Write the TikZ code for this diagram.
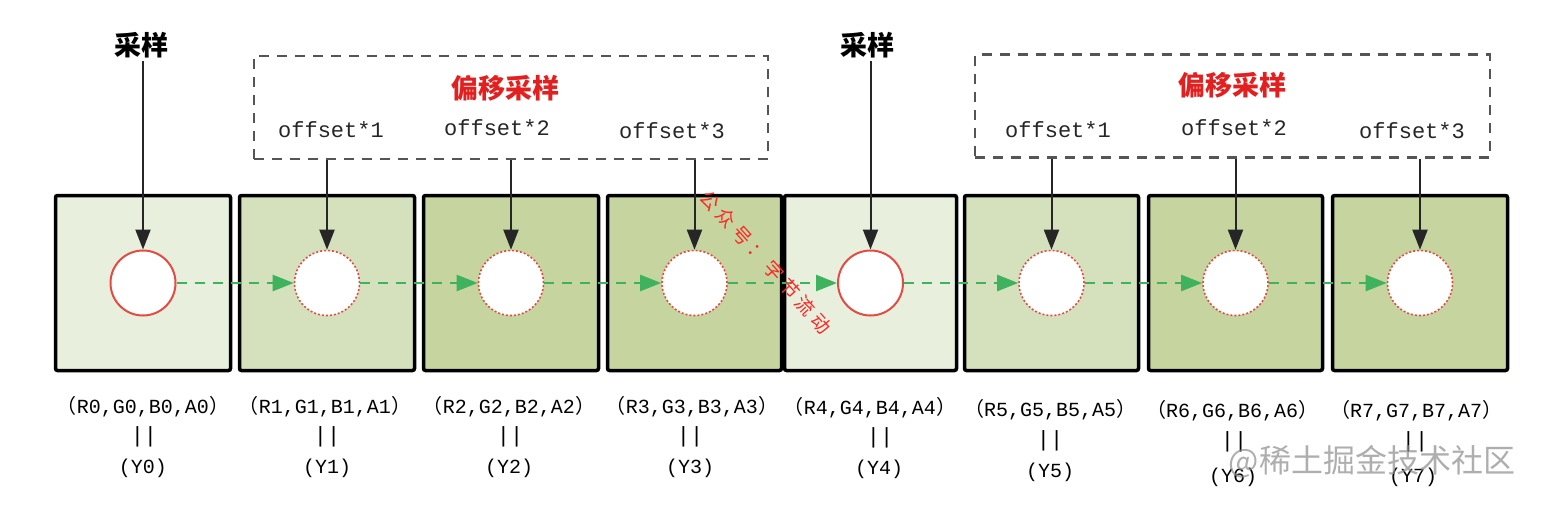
\documentclass[tikz,border=0pt]{standalone}
\usepackage{fontspec}
\setmonofont{Liberation Mono}
\newfontfamily\cjk{Noto Sans CJK SC}
\usetikzlibrary{arrows.meta, calc}

\definecolor{cellpale}{RGB}{233,239,221}
\definecolor{cellmid}{RGB}{213,225,189}
\definecolor{celldeep}{RGB}{198,213,160}
\definecolor{probered}{RGB}{226,76,66}
\definecolor{flowgreen}{RGB}{62,178,92}
\definecolor{groupgray}{RGB}{85,85,85}
\definecolor{titlered}{RGB}{226,32,32}

\newcommand{\rgbaof}[1]{{\cjk （}R#1,G#1,B#1,A#1{\cjk ）}}

\begin{document}
\begin{tikzpicture}[x=1pt,y=-1pt,>={Triangle[length=20pt,width=15pt]},
			cell/.style={draw=black,line width=3.5pt,rounded corners=2pt,minimum height=175pt,inner sep=0pt},
			probe/.style={circle,draw=probered,fill=white,line width=2pt,minimum size=65pt,inner sep=0pt},
			shifted/.style={probe,dotted,line width=1.6pt},
			group/.style={draw=groupgray,line width=2.5pt,dash pattern=on 10pt off 8pt,minimum height=103pt,inner sep=0pt},
			head/.style={font=\cjk\bfseries\fontsize{27}{30}\selectfont},
			title/.style={font=\cjk\bfseries\fontsize{27}{30}\selectfont,text=titlered},
			step label/.style={font=\ttfamily\fontsize{22}{24}\selectfont,text=black!85},
			value/.style={font=\ttfamily\fontsize{20}{22}\selectfont,inner sep=0pt},
			bars/.style={font=\ttfamily\fontsize{22}{24}\selectfont,inner sep=0pt,text height=13pt,text depth=2pt},
			down/.style={->,color=black!85,line width=2pt},
			flow/.style={-{Triangle[length=21pt,width=16pt]},color=flowgreen,line width=2.5pt,dash pattern=on 10pt off 8pt}]
			
			\useasboundingbox (0,0) rectangle (1544,514);
			
			% pixel cells
			\node[cell,fill=cellpale,minimum width=175pt] (b0) at (143,283) {};
			\node[cell,fill=cellmid,minimum width=175pt] (b1) at (327,283) {};
			\node[cell,fill=celldeep,minimum width=175pt] (b2) at (511,283) {};
			\node[cell,fill=celldeep,minimum width=174pt] (b3) at (694.5,283) {};
			\node[cell,fill=cellpale,minimum width=172pt] (b4) at (870.5,283) {};
			\node[cell,fill=cellmid,minimum width=174pt] (b5) at (1051.5,283) {};
			\node[cell,fill=celldeep,minimum width=174pt] (b6) at (1235.5,283) {};
			\node[cell,fill=celldeep,minimum width=175pt] (b7) at (1420,283) {};
			
			% sample points
			\node[probe] (c0) at (b0.center) {};
			\node[shifted] (c1) at (b1.center) {};
			\node[shifted] (c2) at (b2.center) {};
			\node[shifted] (c3) at (b3.center) {};
			\node[probe] (c4) at (b4.center) {};
			\node[shifted] (c5) at (b5.center) {};
			\node[shifted] (c6) at (b6.center) {};
			\node[shifted] (c7) at (b7.center) {};
			
			\path[flow]
			(c0) edge (c1)
			(c1) edge (c2)
			(c2) edge (c3)
			(c3) edge (c4)
			(c4) edge (c5)
			(c5) edge (c6)
			(c6) edge (c7);
			
			% plain samples
			\node[head] (s0) at (141,45) {采样};
			\node[head] (s4) at (867,45) {采样};
			\draw[down] (s0.south -| c0.north) -- (c0.north);
			\draw[down] (s4.south -| c4.north) -- (c4.north);
			
			% offset groups
			\node[group,minimum width=514pt] (g1) at (511,107.5) {};
			\node[group,minimum width=515pt] (g2) at (1232.5,106) {};
			\node[title] (t1) at (505,88) {偏移采样};
			\node[title] (t2) at (1232,85) {偏移采样};
			\node[step label] (o1) at (331,130) {offset*1};
			\node[step label] (o2) at (497,128) {offset*2};
			\node[step label] (o3) at (672,131) {offset*3};
			\node[step label] (o5) at (1058,130) {offset*1};
			\node[step label] (o6) at (1234,128) {offset*2};
			\node[step label] (o7) at (1412,131) {offset*3};
			\draw[down] (g1.south -| c1.north) -- (c1.north);
			\draw[down] (g1.south -| c2.north) -- (c2.north);
			\draw[down] (g1.south -| c3.north) -- (c3.north);
			\draw[down] (g2.south -| c5.north) -- (c5.north);
			\draw[down] (g2.south -| c6.north) -- (c6.north);
			\draw[down] (g2.south -| c7.north) -- (c7.north);
			
			% pixel values
			\node[value] (v0) at (143,407) {\rgbaof{0}};
			\node[value] (v1) at (325,407) {\rgbaof{1}};
			\node[value] (v2) at (509,407) {\rgbaof{2}};
			\node[value] (v3) at (692,407) {\rgbaof{3}};
			\node[value] (v4) at (870,408) {\rgbaof{4}};
			\node[value] (v5) at (1050,410) {\rgbaof{5}};
			\node[value] (v6) at (1232,411) {\rgbaof{6}};
			\node[value] (v7) at (1416,411) {\rgbaof{7}};
			\node[bars] (e0) at (144,437) {||};
			\node[bars] (e1) at (327,437) {||};
			\node[bars] (e2) at (510,437) {||};
			\node[bars] (e3) at (690,437) {||};
			\node[bars] (e4) at (880,438) {||};
			\node[bars] (e5) at (1050,441) {||};
			\node[bars] (e6) at (1234,442) {||};
			\node[bars] (e7) at (1415,442) {||};
			\node[value] (y0) at (143,468) {(Y0)};
			\node[value] (y1) at (327,468) {(Y1)};
			\node[value] (y2) at (509,468) {(Y2)};
			\node[value] (y3) at (690,468) {(Y3)};
			\node[value] (y4) at (879,469) {(Y4)};
			\node[value] (y5) at (1050,472) {(Y5)};
			\node[value] (y6) at (1233,477) {(Y6)};
			\node[value] (y7) at (1413,477) {(Y7)};
			
			% marks
			\node[font=\cjk\fontsize{19}{19}\selectfont\addfontfeature{LetterSpace=25},text=red!85,rotate=-48] (m1) at (766,262) {公众号：字节流动};
			\node[font=\cjk\fontsize{32}{32}\selectfont,text=black!45,opacity=0.7] (m2) at (1372,462) {@稀土掘金技术社区};
		\end{tikzpicture}
\end{document}
